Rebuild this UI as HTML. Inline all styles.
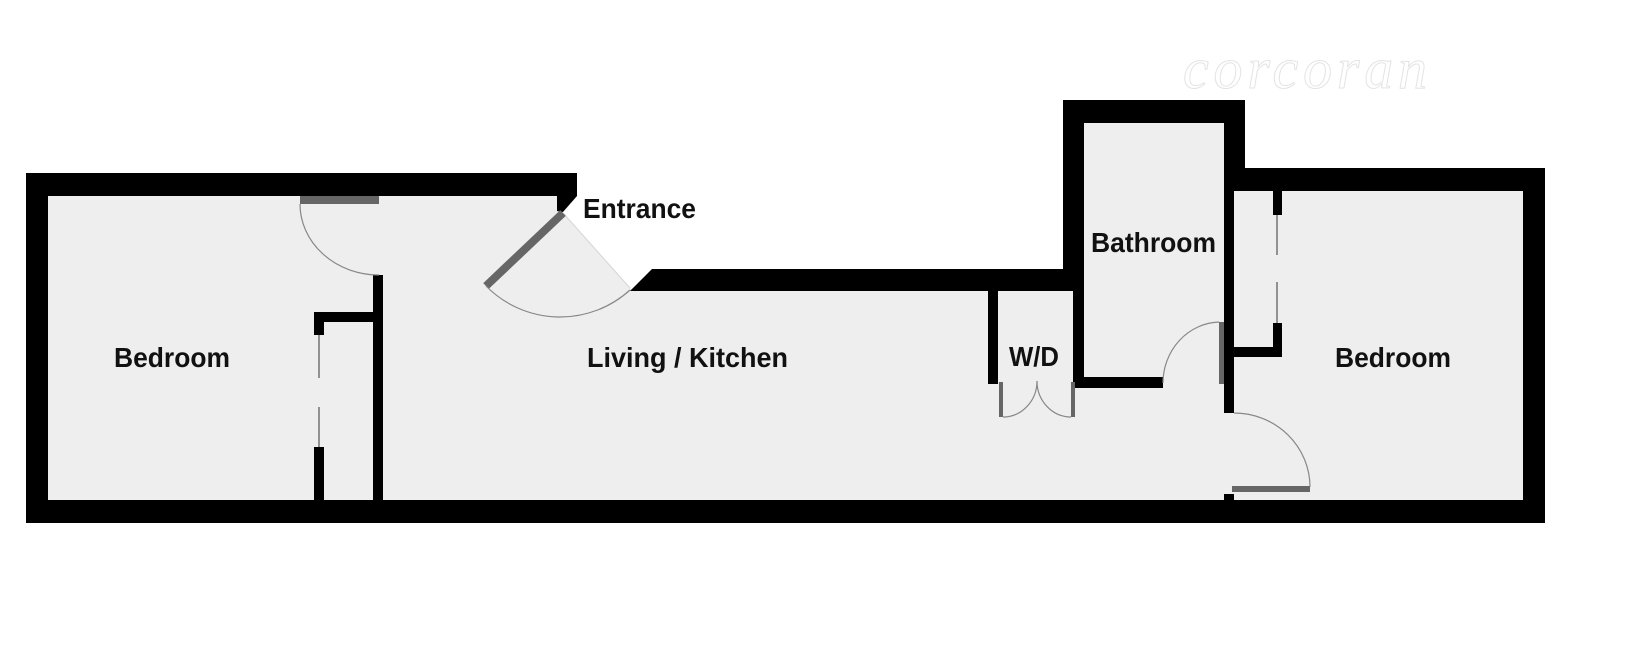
<!DOCTYPE html>
<html><head><meta charset="utf-8"><style>html,body{margin:0;padding:0;background:#fff;}svg{display:block}</style></head>
<body>
<svg width="1634" height="666" viewBox="0 0 1634 666" xmlns="http://www.w3.org/2000/svg">
<rect width="1634" height="666" fill="#fff"/>
<text x="1183" y="88" font-family="Liberation Serif, serif" font-style="italic" font-size="58" fill="#fff" stroke="#e4e4e4" stroke-width="1" textLength="244">corcoran</text>
<polygon fill="#eeeeee" points="48,196 560,196 563,212 632,290 1084,290 1084,123 1224,123 1224,191 1523,191 1523,500 48,500"/>
<g fill="#000">
<rect x="26" y="173" width="551" height="23"/>
<rect x="26" y="173" width="22" height="350"/>
<rect x="26" y="500" width="1519" height="23"/>
<polygon points="557,194 577,194 577,196 563,212 557,211"/>
<polygon points="630,291 652,269 1063,269 1063,291"/>
<rect x="1063" y="100" width="21" height="191"/>
<rect x="1073" y="285" width="11" height="103"/>
<rect x="1063" y="100" width="182" height="23"/>
<rect x="1224" y="100" width="21" height="91"/>
<rect x="1224" y="168" width="321" height="23"/>
<rect x="1224" y="191" width="10" height="222"/>
<rect x="1523" y="168" width="22" height="355"/>
<rect x="1073" y="377" width="90" height="11"/>
<rect x="988" y="285" width="10" height="99"/>
<rect x="1234" y="347" width="48" height="10"/>
<rect x="1273" y="191" width="9" height="24"/>
<rect x="1273" y="323" width="9" height="34"/>
<rect x="373" y="275" width="10" height="226"/>
<rect x="314" y="312" width="69" height="10"/>
<rect x="314" y="312" width="10" height="23"/>
<rect x="314" y="447" width="10" height="54"/>
<rect x="1224" y="494" width="10" height="8"/>
</g>
<g stroke="#555" stroke-width="1.2">
<line x1="319" y1="335" x2="319" y2="378"/>
<line x1="319" y1="407" x2="319" y2="447"/>
<line x1="1277" y1="215" x2="1277" y2="255"/>
<line x1="1277" y1="282" x2="1277" y2="323"/>
</g>
<g fill="#666">
<rect x="300" y="196" width="79" height="8"/>
<rect x="999" y="382" width="4" height="35"/>
<rect x="1071" y="382" width="4" height="35"/>
<rect x="1219" y="322" width="5" height="62"/>
<rect x="1232" y="486" width="78" height="6"/>
</g>
<line x1="563" y1="213" x2="630" y2="288" stroke="#d6d6d6" stroke-width="1"/>
<line x1="563" y1="213" x2="486" y2="286" stroke="#666" stroke-width="8"/>
<g fill="none" stroke="#888" stroke-width="1.2">
<path d="M300,204 A79,71 0 0 0 379,275"/>
<path d="M486,286 A104,104 0 0 0 630,290"/>
<path d="M1003,417 A34,36 0 0 0 1037,381"/>
<path d="M1071,417 A34,36 0 0 1 1037,381"/>
<path d="M1219,322 A58,61 0 0 0 1163,383"/>
<path d="M1234,413 A76,74 0 0 1 1310,487"/>
</g>
<g font-family="Liberation Sans, sans-serif" font-weight="bold" font-size="28" fill="#111">
<text x="114" y="367" textLength="116" lengthAdjust="spacingAndGlyphs">Bedroom</text>
<text x="583" y="218" textLength="113" lengthAdjust="spacingAndGlyphs">Entrance</text>
<text x="587" y="367" textLength="201" lengthAdjust="spacingAndGlyphs">Living / Kitchen</text>
<text x="1091" y="252" textLength="125" lengthAdjust="spacingAndGlyphs">Bathroom</text>
<text x="1009" y="366" textLength="50" lengthAdjust="spacingAndGlyphs">W/D</text>
<text x="1335" y="367" textLength="116" lengthAdjust="spacingAndGlyphs">Bedroom</text>
</g>
</svg>
</body></html>
